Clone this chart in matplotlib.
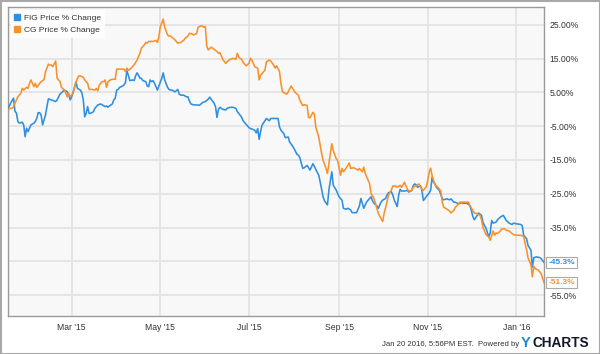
import numpy as np
import matplotlib
matplotlib.use("Agg")
import matplotlib.pyplot as plt
from matplotlib.lines import Line2D
from matplotlib.patches import Rectangle
import matplotlib.transforms as mtransforms

plt.rcParams['font.family'] = ['Liberation Sans', 'DejaVu Sans']

# ---------------- data ----------------
start_date = np.datetime64("2015-01-16")
end_date = np.datetime64("2016-01-20")

series_names = ["FIG Price % Change", "CG Price % Change"]
series_colors = ["#2e8fe0", "#f7922a"]

# days since 2015-01-16
fig_days = [0, 2, 4, 5, 6, 7, 8, 10, 11, 12,
            13, 14, 15, 16, 18, 19, 20, 21, 22, 23,
            24, 26, 27, 28, 30, 33, 34, 36, 37, 39,
            41, 42, 43, 44, 46, 47, 48, 50, 51, 52,
            53, 54, 55, 56, 57, 59, 60, 62, 64, 67,
            68, 69, 70, 72, 73, 74, 75, 76, 77, 79,
            80, 81, 82, 83, 84, 86, 87, 88, 89, 90,
            91, 92, 93, 95, 96, 97, 98, 99, 100, 101,
            102, 103, 104, 106, 107, 108, 110, 111, 112, 113,
            115, 116, 117, 118, 119, 121, 123, 124, 125, 126,
            128, 130, 132, 134, 136, 138, 139, 140, 142, 143,
            144, 145, 146, 148, 150, 151, 153, 155, 157, 158,
            159, 161, 162, 164, 166, 167, 169, 170, 171, 172,
            173, 174, 175, 177, 178, 180, 181, 183, 186, 187,
            188, 190, 191, 193, 194, 196, 197, 199, 200, 201,
            203, 204, 206, 207, 208, 210, 211, 212, 214, 215,
            217, 218, 220, 221, 223, 224, 226, 228, 230, 231,
            233, 234, 236, 237, 240, 242, 243, 245, 246, 247,
            249, 250, 251, 252, 254, 255, 256, 257, 258, 260,
            261, 262, 264, 265, 266, 268, 269, 270, 271, 273,
            275, 276, 278, 279, 280, 281, 282, 284, 285, 286,
            287, 288, 290, 291, 292, 293, 294, 295, 297, 298,
            299, 300, 302, 304, 305, 307, 308, 310, 312, 314,
            316, 318, 319, 320, 321, 322, 323, 324, 326, 327,
            328, 329, 330, 331, 332, 333, 334, 336, 337, 339,
            341, 342, 343, 345, 347, 348, 350, 353, 354, 355,
            357, 358, 359, 360, 361, 362, 364, 366, 367, 369]
fig_vals = [0.0, 1.8, 3.3, -0.6, -1.1, -3.6, -4.1, -3.8, -4.6, -8.1,
            -5.6, -6.6, -5.6, -4.6, -4.1, -3.6, -2.7, -1.0, -1.0, -1.7,
            -4.6, -1.7, 0.8, 3.1, 2.8, 2.3, 2.8, 4.5, 4.9, 5.7,
            5.2, 4.2, 2.8, 3.7, 6.5, 8.2, 6.2, 5.7, 4.9, 2.8,
            -2.2, -1.2, 0.8, -1.2, -1.2, -0.7, 0.3, 1.3, 1.6, 0.8,
            1.0, 0.6, 1.0, 1.6, 2.8, 3.3, 5.7, 5.9, 6.5, 6.9,
            7.2, 7.9, 11.4, 10.1, 8.5, 8.7, 8.5, 9.9, 10.8, 10.1,
            9.2, 9.2, 8.5, 8.2, 6.9, 6.7, 8.7, 8.2, 8.5, 7.7,
            6.7, 5.7, 6.9, 9.2, 10.8, 8.7, 6.5, 5.9, 5.7, 5.7,
            5.2, 5.5, 5.9, 4.5, 4.2, 4.2, 3.7, 3.7, 2.5, 1.6,
            1.3, 1.3, 1.2, 2.0, 2.3, 3.0, 3.6, 3.0, 1.8, 0.8,
            -2.4, 0.0, 0.6, 0.0, -0.2, 0.3, 0.6, 0.6, 0.3, -0.7,
            -1.2, -2.4, -3.4, -4.4, -5.4, -5.7, -6.0, -6.2, -7.0, -5.7,
            -8.9, -6.6, -4.7, -3.4, -2.7, -3.4, -2.7, -2.7, -2.7, -5.2,
            -6.2, -7.2, -8.4, -8.2, -9.7, -10.9, -11.6, -13.3, -13.6, -14.3,
            -17.5, -17.3, -16.6, -17.3, -18.0, -16.1, -16.9, -17.8, -19.5, -21.5,
            -25.9, -27.1, -28.3, -23.9, -18.5, -22.5, -23.9, -25.9, -26.9, -29.3,
            -29.6, -29.3, -29.8, -30.6, -30.6, -28.6, -26.4, -29.3, -28.3, -27.4,
            -26.4, -25.9, -27.1, -27.8, -28.6, -29.3, -28.3, -27.4, -26.9, -26.4,
            -25.4, -24.7, -24.4, -25.4, -26.9, -28.8, -25.4, -23.7, -24.2, -24.2,
            -24.0, -24.5, -24.0, -22.6, -22.1, -22.3, -23.1, -22.6, -24.0, -27.0,
            -26.5, -25.8, -24.8, -23.9, -20.1, -21.6, -22.1, -23.1, -24.0, -25.2,
            -26.5, -26.8, -26.5, -26.8, -26.5, -27.5, -27.5, -28.0, -27.7, -27.8,
            -27.8, -28.5, -29.9, -31.7, -32.7, -32.1, -31.4, -30.7, -31.4, -33.4,
            -34.4, -35.1, -36.4, -37.8, -36.6, -32.9, -33.7, -33.4, -32.7, -31.9,
            -31.4, -32.1, -32.9, -33.7, -34.1, -33.7, -33.9, -34.1, -34.4, -37.3,
            -38.3, -40.3, -41.0, -41.7, -46.7, -43.9, -43.7, -43.9, -44.2, -45.3]

cg_days = [0, 2, 3, 4, 6, 7, 9, 10, 11, 13,
           14, 15, 16, 18, 19, 20, 22, 23, 25, 26,
           28, 29, 30, 31, 33, 34, 36, 37, 39, 41,
           42, 43, 44, 45, 46, 48, 49, 50, 52, 53,
           55, 56, 58, 60, 61, 62, 63, 65, 66, 67,
           68, 69, 71, 72, 74, 75, 77, 80, 81, 82,
           83, 85, 87, 88, 89, 90, 91, 92, 94, 95,
           96, 97, 100, 102, 103, 104, 105, 106, 107, 108,
           110, 111, 112, 114, 115, 117, 119, 121, 122, 124,
           125, 127, 128, 130, 131, 133, 134, 135, 136, 137,
           138, 140, 142, 144, 145, 146, 148, 150, 151, 153,
           155, 157, 158, 159, 161, 162, 164, 166, 167, 168,
           169, 170, 172, 173, 174, 175, 177, 178, 180, 181,
           183, 184, 185, 187, 188, 189, 190, 192, 193, 195,
           196, 198, 200, 201, 203, 204, 206, 207, 208, 210,
           211, 212, 214, 216, 217, 219, 220, 221, 223, 224,
           226, 227, 229, 230, 231, 233, 234, 235, 236, 238,
           239, 241, 242, 244, 245, 246, 247, 249, 250, 252,
           253, 254, 255, 257, 258, 259, 261, 262, 264, 265,
           267, 268, 270, 271, 273, 275, 276, 278, 279, 281,
           283, 284, 285, 286, 288, 289, 290, 291, 292, 293,
           294, 296, 298, 299, 300, 302, 304, 305, 307, 308,
           310, 311, 317, 318, 320, 321, 323, 325, 326, 327,
           329, 331, 332, 334, 335, 336, 337, 339, 340, 342,
           343, 345, 347, 348, 351, 353, 355, 356, 357, 358,
           359, 360, 361, 362, 363, 365, 366, 367, 369]
cg_vals = [0.0, 0.3, 0.3, 0.8, 2.8, 3.7, 4.7, 6.2, 5.7, 6.5,
           6.2, 7.7, 8.7, 6.7, 7.7, 6.5, 7.7, 8.2, 8.8, 11.1,
           13.4, 13.1, 13.1, 12.6, 14.3, 9.2, 8.2, 6.5, 5.7, 3.7,
           4.7, 3.7, 4.2, 4.7, 6.7, 9.2, 9.9, 9.9, 9.5, 8.7,
           7.7, 5.9, 5.9, 5.7, 6.2, 5.5, 7.2, 8.2, 8.2, 8.7,
           6.5, 8.2, 8.8, 8.9, 8.9, 11.9, 11.9, 11.9, 11.2, 12.2,
           11.5, 12.2, 13.2, 13.9, 14.6, 15.6, 16.6, 18.1, 19.1, 19.8,
           19.6, 20.1, 20.1, 20.4, 19.8, 21.5, 24.5, 25.5, 26.7, 24.3,
           22.0, 21.7, 21.7, 21.0, 20.6, 19.6, 19.8, 20.4, 21.0, 21.7,
           22.5, 22.3, 22.0, 22.5, 24.3, 24.7, 24.7, 24.3, 24.5, 18.6,
           17.6, 18.4, 17.8, 17.1, 16.6, 16.8, 14.8, 13.6, 14.1, 14.8,
           15.1, 14.8, 16.6, 15.4, 14.8, 13.9, 12.9, 13.6, 15.1, 14.6,
           13.6, 12.6, 12.2, 8.7, 10.1, 10.6, 11.6, 14.1, 14.6, 14.3,
           13.1, 12.2, 12.9, 11.2, 7.7, 5.2, 4.9, 4.5, 5.2, 6.9,
           6.2, 4.9, 4.2, 2.7, 1.1, 1.4, 1.1, -2.4, -2.5, -0.9,
           -1.4, -5.3, -8.2, -13.1, -15.1, -17.5, -19.0, -16.1, -10.2, -12.2,
           -14.6, -15.1, -19.5, -17.5, -18.5, -17.3, -16.6, -15.9, -17.5, -17.3,
           -17.5, -18.0, -17.5, -18.5, -17.1, -19.0, -20.0, -22.0, -24.9, -26.4,
           -27.8, -29.3, -30.8, -32.5, -33.2, -30.8, -27.4, -25.4, -23.9, -22.7,
           -22.7, -23.1, -22.5, -23.1, -21.6, -23.6, -24.2, -24.0, -23.1, -22.6,
           -22.1, -23.1, -23.6, -24.0, -22.9, -21.1, -18.6, -17.4, -19.6, -21.1,
           -22.3, -23.1, -24.2, -27.5, -29.0, -29.5, -30.1, -30.7, -29.9, -29.0,
           -28.2, -27.5, -27.5, -28.5, -29.9, -30.7, -30.9, -31.4, -32.7, -34.9,
           -37.0, -37.8, -38.8, -36.0, -37.3, -36.6, -36.8, -36.0, -35.4, -35.4,
           -35.8, -36.0, -36.8, -37.1, -37.3, -37.3, -37.6, -39.8, -41.5, -44.0,
           -45.0, -46.0, -49.6, -46.5, -47.2, -47.6, -48.1, -48.6, -51.3]

assert len(fig_days) == len(fig_vals)
assert len(cg_days) == len(cg_vals)

ytick_values = [25, 15, 5, -5, -15, -25, -35, -45, -55]
# the -45% label is hidden behind the FIG end-value box in the reference
ytick_labels = ["25.00%", "15.00%", "5.00%", "-5.00%", "-15.0%",
                "-25.0%", "-35.0%", "", "-55.0%"]
xtick_dates = ["2015-03-01", "2015-05-01", "2015-07-01",
               "2015-09-01", "2015-11-01", "2016-01-01"]
xtick_labels = ["Mar '15", "May '15", "Jul '15", "Sep '15", "Nov '15", "Jan '16"]
end_labels = ["-45.3%", "-51.3%"]
footer_text = "Jan 20 2016, 5:56PM EST.  Powered by"

# ---------------- figure ----------------
W, H = 600, 354
fig = plt.figure(figsize=(W / 100, H / 100), dpi=100)
ax = fig.add_axes([7.7 / W, 1 - 316 / H, (544 - 7.7) / W, (316 - 7) / H])
ax.set_facecolor("#f8f8f8")

days_list = [fig_days, cg_days]
vals_list = [fig_vals, cg_vals]
for days, vals, col in zip(days_list, vals_list, series_colors):
    dates = start_date + np.array(days, dtype="timedelta64[D]")
    ax.plot(dates, vals, color=col, lw=1.15, solid_joinstyle="round", zorder=3)

ax.set_xlim(start_date, end_date)
ax.set_ylim(-61.2, 30.3)

ax.set_yticks(ytick_values)
ax.set_yticklabels(ytick_labels)
ax.set_xticks([np.datetime64(d) for d in xtick_dates])
ax.set_xticklabels(xtick_labels)
ax.yaxis.tick_right()
ax.tick_params(axis="both", length=0, labelsize=6.2, colors="#333333")
ax.tick_params(axis="y", pad=4)
ax.tick_params(axis="x", pad=5)
ax.grid(True, color="#e4e4e4", lw=1.3, zorder=0)
ax.set_axisbelow(True)
for sp in ax.spines.values():
    sp.set_color("#9a9a9a")
    sp.set_linewidth(1.0)

# legend
handles = [Line2D([], [], marker="s", linestyle="none", color=c,
                  markersize=4.2) for c in series_colors]
leg = ax.legend(handles, series_names, loc="upper left", fontsize=6,
                frameon=True, facecolor="white", edgecolor="none",
                framealpha=0.85, handlelength=0.6, handletextpad=0.5,
                labelspacing=0.45, borderaxespad=0.35, borderpad=0.5,
                fancybox=False)
for t in leg.get_texts():
    t.set_color("#333333")

# end-value labels
trans = mtransforms.blended_transform_factory(ax.transAxes, ax.transData)
end_values = [fig_vals[-1], cg_vals[-1]]
for lab, val, col in zip(end_labels, end_values, series_colors):
    ax.text(1.008, val, lab, transform=trans, ha="left", va="center",
            fontsize=6, color=col, fontweight="bold", clip_on=False,
            bbox=dict(boxstyle="square,pad=0.25", facecolor="white",
                      edgecolor="#aaaaaa", lw=0.8), zorder=5)

# footer
fig.text(519 / W, 1 - 346 / H, footer_text, ha="right", va="baseline",
         fontsize=5.6, color="#333333")
fig.text(521 / W, 1 - 347 / H, "Y", ha="left", va="baseline",
         fontsize=10.5, fontweight="bold", color="#1e8ad6")
fig.text(532.5 / W, 1 - 347 / H, "CHARTS", ha="left", va="baseline",
         fontsize=9.8, fontweight="bold", color="#111827")

# outer frame
fig.patches.append(Rectangle((0.5 / W, 0.5 / H), 1 - 1 / W, 1 - 1 / H,
                             transform=fig.transFigure, fill=False,
                             edgecolor="#a8a8a8", lw=1.5))

fig.savefig("out.png", dpi=100)
